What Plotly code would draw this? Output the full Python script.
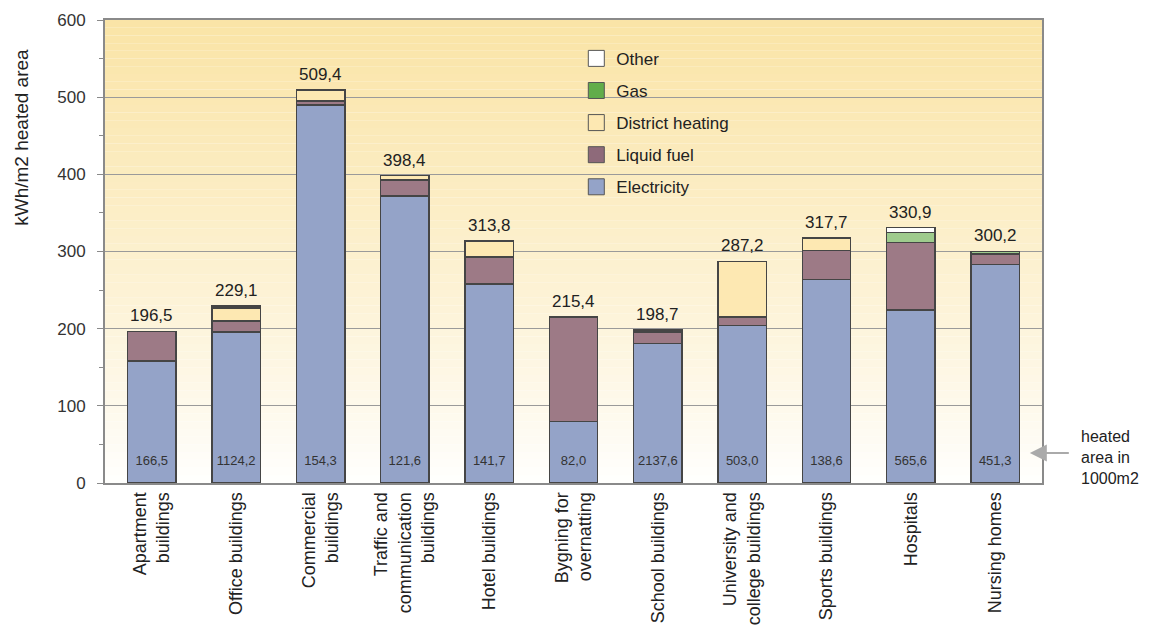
import plotly.graph_objects as go

categories = ["Apartment<br>buildings", "Office buildings", "Commercial<br>buildings",
              "Traffic and<br>communication<br>buildings", "Hotel buildings",
              "Bygning for<br>overnatting", "School buildings",
              "University and<br>college buildings", "Sports buildings",
              "Hospitals", "Nursing homes"]
electricity = [158, 196, 490, 372, 258, 80, 181, 204, 264, 224.2, 283]
liquid_fuel = [38.5, 14, 5, 20.4, 35, 135.4, 14, 11, 37, 87.7, 13]
district_heating = [0, 17, 14.4, 6, 20.8, 0, 0, 72.2, 16.7, 0, 1.5]
gas = [0, 1, 0, 0, 0, 0, 2, 0, 0, 13, 2.7]
other = [0, 1.1, 0, 0, 0, 0, 1.7, 0, 0, 6, 0]
totals = [196.5, 229.1, 509.4, 398.4, 313.8, 215.4, 198.7, 287.2, 317.7, 330.9, 300.2]
heated_area = [166.5, 1124.2, 154.3, 121.6, 141.7, 82.0, 2137.6, 503.0, 138.6, 565.6, 451.3]
y_ticks = [0, 100, 200, 300, 400, 500, 600]

FONT = "Liberation Sans, Arial, Helvetica, sans-serif"

def fmt(v):
    return f"{v:.1f}".replace(".", ",")

series = [
    ("Electricity", electricity, "#94A3C8", "#94A3C8"),
    ("Liquid fuel", liquid_fuel, "#9D7A86", "#8E6A7A"),
    ("District heating", district_heating, "#FDE8B2", "#FDE8B2"),
    ("Gas", gas, "#9ECB8D", "#62AD4A"),
    ("Other", other, "#FFFFFF", "#FFFFFF"),
]

fig = go.Figure()
for rank, (name, vals, col, legcol) in enumerate(series):
    fig.add_trace(go.Bar(
        x=categories, y=[v if v else None for v in vals], name=name,
        marker=dict(color=col, line=dict(color="#454545", width=1.5)),
        legendgroup=name, showlegend=False,
    ))
    fig.add_trace(go.Scatter(
        x=[None], y=[None], mode="markers", name=name, legendgroup=name,
        legendrank=100 - rank,
        marker=dict(symbol="square", size=16, color=legcol,
                    line=dict(color="#555555", width=1)),
    ))

for cat, t in zip(categories, totals):
    fig.add_annotation(x=cat, y=t, text=fmt(t), showarrow=False, yanchor="bottom",
                       yshift=4, font=dict(size=17, color="#222", family=FONT))

fig.add_trace(go.Scatter(
    x=categories, y=[27] * len(categories), mode="text",
    text=[fmt(a) for a in heated_area], textposition="middle center",
    textfont=dict(size=13, color="#333", family=FONT),
    showlegend=False, hoverinfo="skip",
))

# background gradient (light yellow at top fading to white)
top = (250, 228, 166)
n = 60
for i in range(n):
    f = (i + 0.5) / n
    w = min(1.0, f ** 0.85)
    r = round(255 + (top[0] - 255) * w)
    g = round(255 + (top[1] - 255) * w)
    b = round(255 + (top[2] - 255) * w)
    fig.add_shape(type="rect", xref="paper", yref="paper",
                  x0=0, x1=1, y0=i / n, y1=(i + 1) / n,
                  fillcolor=f"rgb({r},{g},{b})", line=dict(width=0), layer="below")

# y axis title (placed toward the top, as in the original)
fig.add_annotation(xref="paper", yref="paper", x=-0.089, y=0.747,
                   text="kWh/m2 heated area", textangle=-90, showarrow=False,
                   xanchor="center", yanchor="middle",
                   font=dict(size=19, color="#222", family=FONT))

fig.add_annotation(xref="paper", yref="paper", x=1.04, y=0.055,
                   text="heated<br>area in<br>1000m2", showarrow=False,
                   xanchor="left", yanchor="middle", align="left",
                   font=dict(size=16, color="#222", family=FONT))
fig.add_annotation(xref="paper", yref="paper", x=0.987, y=0.065, text=" ",
                   showarrow=True, ax=42, ay=0, arrowhead=2, arrowsize=1.7,
                   arrowwidth=2, arrowcolor="#AAAAAA")

fig.update_layout(
    width=1158, height=639,
    margin=dict(l=105, r=116, t=20, b=156),
    barmode="stack", bargap=0.425,
    paper_bgcolor="white", plot_bgcolor="white",
    font=dict(family=FONT, color="#222"),
    legend=dict(x=0.503, y=0.955, xanchor="left", yanchor="top",
                traceorder="grouped", tracegroupgap=7,
                bgcolor="rgba(0,0,0,0)", font=dict(size=17, color="#222", family=FONT),
                itemsizing="trace"),
    showlegend=True,
)
fig.update_yaxes(range=[0, 600], tickvals=y_ticks, showgrid=True, gridcolor="#9A9A9A",
                 gridwidth=1, showline=True, linecolor="#8A8A8A", linewidth=2, mirror=True,
                 ticks="outside", ticklen=6, tickcolor="#8A8A8A", ticklabelstandoff=8,
                 minor=dict(dtick=50, ticks="outside", ticklen=4, tickcolor="#8A8A8A", showgrid=False),
                 tickfont=dict(size=17, color="#333", family=FONT),
                 zeroline=False)
fig.update_xaxes(type="category", tickangle=-90, showline=True, linecolor="#8A8A8A",
                 linewidth=2, mirror=True, ticks="", showgrid=False,
                 tickfont=dict(size=18, color="#222", family=FONT))

fig.write_html("out.html")
